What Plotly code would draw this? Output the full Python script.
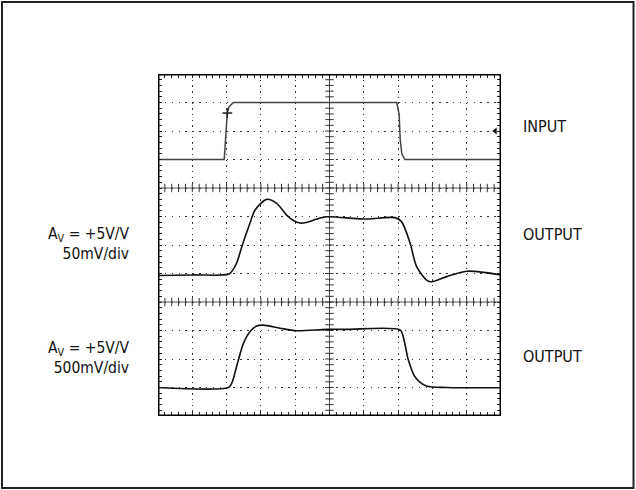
import numpy as np
import plotly.graph_objects as go

# ---- data (scope divisions: x 0..10, y 0..12) ----
input_t = [0, 1.93, 2.02, 2.07, 2.2, 6.96, 7.03, 7.06, 7.11, 7.2, 10]
input_v = [9.0, 9.0, 10.63, 10.85, 11.0, 11.0, 10.59, 9.72, 9.19, 9.0, 9.0]

out1_t = [0, 1.0, 2.05, 2.15, 2.29, 2.46, 2.68, 2.83, 3.17, 3.46, 3.75, 3.95, 4.14, 4.35, 4.6, 4.92,
          5.99, 6.91, 7.1, 7.35, 7.54, 7.83, 7.98, 8.42, 9.0, 10]
out1_v = [4.93, 4.95, 4.97, 5.07, 5.36, 6.0, 6.76, 7.23, 7.6, 7.46, 7.05, 6.86, 6.77, 6.8, 6.9, 6.99,
          6.91, 6.96, 6.82, 6.07, 5.24, 4.77, 4.71, 4.89, 5.08, 4.95]

out2_t = [0, 2.05, 2.15, 2.29, 2.49, 2.68, 2.88, 3.07, 3.56, 4.04, 4.92, 5.5, 7.06, 7.15,
          7.3, 7.49, 7.83, 8.42, 10]
out2_v = [1.0, 1.0, 1.15, 1.73, 2.55, 2.96, 3.16, 3.19, 3.08, 2.99, 3.04, 3.04, 3.02, 2.78,
          1.96, 1.38, 1.05, 1.0, 0.99]

right_labels = ["INPUT", "OUTPUT", "OUTPUT"]
left_labels = ["A<sub>V</sub> = +5V/V<br>50mV/div", "A<sub>V</sub> = +5V/V<br>500mV/div"]

X_DIV, Y_DIV = 10, 12
major_rows = [4, 8]
major_col = 5

FONT = "DejaVu Sans Condensed, Roboto, Liberation Sans, sans-serif"

fig = go.Figure()

# centre graticule tick marks
sub_x = np.round(np.arange(0, X_DIV + 1e-9, 0.2), 3)
sub_y = np.round(np.arange(0, Y_DIV + 1e-9, 0.2), 3)
for r in major_rows:
    fig.add_trace(go.Scatter(x=sub_x, y=[r] * len(sub_x), mode="markers",
                             marker=dict(symbol="line-ns", size=6,
                                         line=dict(width=1, color="#333")),
                             hoverinfo="skip", showlegend=False))
fig.add_trace(go.Scatter(x=[major_col] * len(sub_y), y=sub_y, mode="markers",
                         marker=dict(symbol="line-ew", size=6,
                                     line=dict(width=1, color="#333")),
                         hoverinfo="skip", showlegend=False))

# traces
fig.add_trace(go.Scatter(x=input_t, y=input_v, mode="lines",
                         line=dict(color="#444", width=1.5),
                         hoverinfo="skip", showlegend=False))
fig.add_trace(go.Scatter(x=out1_t, y=out1_v, mode="lines",
                         line=dict(color="#111", width=1.6, shape="spline", smoothing=0.8),
                         hoverinfo="skip", showlegend=False))
fig.add_trace(go.Scatter(x=out2_t, y=out2_v, mode="lines",
                         line=dict(color="#111", width=1.6, shape="spline", smoothing=0.8),
                         hoverinfo="skip", showlegend=False))

# small scope markers (trigger, channel arrow)
fig.add_trace(go.Scatter(x=[2.02], y=[10.63], mode="markers",
                         marker=dict(symbol="cross-thin", size=7,
                                     line=dict(width=1.5, color="#222")),
                         hoverinfo="skip", showlegend=False))
fig.add_trace(go.Scatter(x=[9.83], y=[10], mode="markers",
                         marker=dict(symbol="triangle-left", size=6, color="#111"),
                         hoverinfo="skip", showlegend=False))

shapes = []
for r in major_rows:
    shapes.append(dict(type="line", xref="x", yref="y", x0=0, x1=X_DIV, y0=r, y1=r,
                       line=dict(color="#555", width=1), layer="below"))
shapes.append(dict(type="line", xref="x", yref="y", x0=major_col, x1=major_col, y0=0, y1=Y_DIV,
                   line=dict(color="#555", width=1), layer="below"))
# scope frame
shapes.append(dict(type="rect", xref="x", yref="y", x0=0, x1=X_DIV, y0=0, y1=Y_DIV,
                   line=dict(color="#000", width=3)))
# outer border
L, T, W, H = 158, 74, 343, 342
def px(x):
    return (x - L) / W
def py(y):
    return (T + H - y) / H
shapes.append(dict(type="rect", xref="paper", yref="paper",
                   x0=px(2), x1=px(633.5), y0=py(488), y1=py(2),
                   line=dict(color="#222", width=2)))

annotations = []
for lab, yc in zip(right_labels, [126, 235, 356]):
    annotations.append(dict(text=lab, xref="paper", yref="paper", x=px(521), y=py(yc),
                            xanchor="left", yanchor="middle", showarrow=False,
                            font=dict(family=FONT, size=16, color="#111")))
for lab, yc in zip(left_labels, [244, 358]):
    annotations.append(dict(text=lab, xref="paper", yref="paper", x=px(132), y=py(yc),
                            xanchor="right", yanchor="middle", align="right", showarrow=False,
                            font=dict(family=FONT, size=15.5, color="#111")))

axis_common = dict(showticklabels=False, zeroline=False, showgrid=True,
                   gridcolor="#333", gridwidth=1.4, dtick=1,
                   ticks="inside", ticklen=4, tickwidth=1, tickcolor="#222",
                   mirror="allticks", showline=False,
                   minor=dict(dtick=0.2, ticks="inside", ticklen=4, tickwidth=1,
                              tickcolor="#222", showgrid=False))

fig.update_layout(
    width=636, height=490,
    margin=dict(l=L, r=636 - L - W, t=T, b=490 - T - H),
    paper_bgcolor="white", plot_bgcolor="white",
    xaxis=dict(range=[0, X_DIV], tick0=0, griddash="1.4px,4.3px", **axis_common),
    yaxis=dict(range=[0, Y_DIV], tick0=0, griddash="1.4px,5.46px", **axis_common),
    shapes=shapes, annotations=annotations,
)

fig.write_html("out.html", config={"displayModeBar": False},
               post_script="document.body.style.margin='0';document.body.style.overflow='hidden';")
